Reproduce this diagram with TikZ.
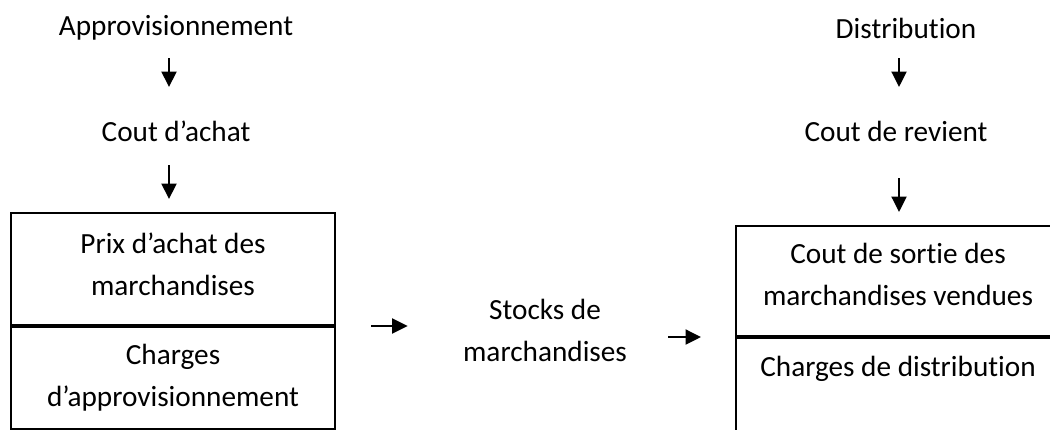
\documentclass[tikz,border=0pt]{standalone}
\usepackage{fontspec}
\setmainfont{Carlito}[RawFeature={-liga}]
\usetikzlibrary{arrows.meta,positioning}

\begin{document}
\begin{tikzpicture}[x=0.4pt, y=-0.4pt,
    texte/.style={inner sep=0pt, align=center, font=\fontsize{11.7}{16.8}\selectfont},
    cadre/.style={texte, draw, line width=0.8pt, minimum width=129.6pt},
    fleche/.style={-{Triangle[length=6.2pt, width=6pt]}, line width=0.8pt}]
    \useasboundingbox (0,0) rectangle (1050,429);
    \clip (0,0) rectangle (1050,429);
    % colonne gauche
    \node[texte] (appro) at (176,28) {Approvisionnement};
    \node[texte] (cachat) at (176,131) {Cout d’achat};
    \node[cadre, minimum height=44.8pt, text depth=4pt] (prix) at (173,269) {Prix d’achat des\\marchandises};
    \node[cadre, minimum height=40.8pt, below=0pt of prix] (chappro) {Charges\\d’approvisionnement};
    % milieu
    \node[texte] (stocks) at (545,330) {Stocks de\\marchandises};
    % colonne droite
    \node[texte] (distrib) at (906,28) {Distribution};
    \node[texte] (crevient) at (896,131) {Cout de revient};
    \node[cadre, minimum height=44pt, text depth=5pt] (sortie) at (898,281) {Cout de sortie des\\marchandises vendues};
    \node[cadre, below=0pt of sortie, text height=15.2pt, text depth=26.4pt] (chdistrib) {Charges de distribution};
    % fleches verticales
    \draw[fleche, shorten <=12pt, shorten >=17.6pt] ([xshift=-2.8pt]appro.center) -- ([xshift=-2.8pt]cachat.center);
    \draw[fleche, shorten <=13.6pt, shorten >=5.2pt] ([xshift=-2.8pt]cachat.center) -- ([xshift=-2.8pt]cachat.center |- prix.north);
    \draw[fleche, shorten <=12pt, shorten >=17.6pt] ([xshift=-2.8pt]distrib.center) -- ([xshift=-2.8pt]distrib.center |- crevient.center);
    \draw[fleche, shorten <=18.8pt, shorten >=5.2pt] ([xshift=-2.8pt]distrib.center |- crevient.center) -- ([xshift=-2.8pt]distrib.center |- sortie.north);
    % fleches horizontales
    \draw[fleche, shorten <=14pt, shorten >=22pt] (prix.south east) -- (prix.south east -| stocks.west);
    \draw[fleche, shorten <=16.4pt, shorten >=13.6pt] (stocks.east |- sortie.south west) -- (sortie.south west);
\end{tikzpicture}
\end{document}
